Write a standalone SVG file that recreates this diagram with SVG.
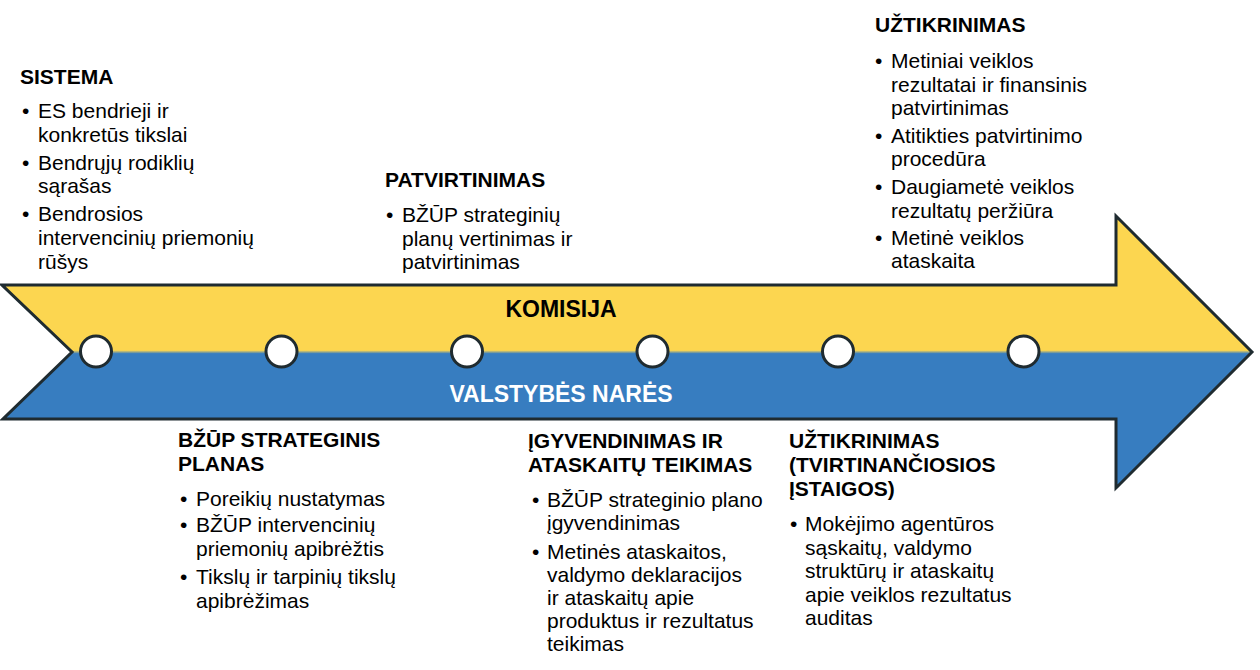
<svg xmlns="http://www.w3.org/2000/svg" width="1260" height="670" viewBox="0 0 1260 670">
<defs>
<linearGradient id="band" gradientUnits="userSpaceOnUse" x1="0" y1="216" x2="0" y2="488">
<stop offset="0" stop-color="#FCD650"/>
<stop offset="0.494" stop-color="#FCD650"/>
<stop offset="0.506" stop-color="#377DC0"/>
<stop offset="1" stop-color="#377DC0"/>
</linearGradient>
<style>
text{font-family:"Liberation Sans",Arial,sans-serif;fill:#000}
.h{font-size:21px;font-weight:bold}
.b{font-size:21px}
.band{font-size:23px;font-weight:bold;text-anchor:middle}
.dot{fill:#fff;stroke:#1F2B30;stroke-width:3}
</style>
</defs>
<rect width="1260" height="670" fill="#fff"/>
<g id="timeline-arrow">
<path d="M2,285 L1116,285 L1116,216 L1252,352 L1116,488 L1116,419 L3,419 L72,352 Z" fill="url(#band)" stroke="#1F2B30" stroke-width="3" stroke-linejoin="miter"/>
<text class="band" x="561" y="317">KOMISIJA</text>
<text class="band" x="561" y="402" style="fill:#fff">VALSTYBĖS NARĖS</text>
</g>
<g id="milestones">
<circle class="dot" cx="96" cy="351.5" r="15.5"/>
<circle class="dot" cx="281.5" cy="351.5" r="15.5"/>
<circle class="dot" cx="467" cy="351.5" r="15.5"/>
<circle class="dot" cx="652.5" cy="351.5" r="15.5"/>
<circle class="dot" cx="838" cy="351.5" r="15.5"/>
<circle class="dot" cx="1023.5" cy="351.5" r="15.5"/>
</g>
<g id="connectors"/>
<g id="sistema">
<text class="h" x="20" y="84">SISTEMA</text>
<text class="b" x="22" y="118">•</text>
<text class="b" x="38" y="118">ES bendrieji ir</text>
<text class="b" x="38" y="142">konkretūs tikslai</text>
<text class="b" x="22" y="170">•</text>
<text class="b" x="38" y="170">Bendrųjų rodiklių</text>
<text class="b" x="38" y="193">sąrašas</text>
<text class="b" x="22" y="221">•</text>
<text class="b" x="38" y="221">Bendrosios</text>
<text class="b" x="38" y="245">intervencinių priemonių</text>
<text class="b" x="38" y="269">rūšys</text>
</g>
<g id="patvirtinimas">
<text class="h" x="385" y="187">PATVIRTINIMAS</text>
<text class="b" x="386" y="222">•</text>
<text class="b" x="402" y="222">BŽŪP strateginių</text>
<text class="b" x="402" y="246">planų vertinimas ir</text>
<text class="b" x="402" y="269">patvirtinimas</text>
</g>
<g id="uztikrinimas-komisija">
<text class="h" x="875" y="32">UŽTIKRINIMAS</text>
<text class="b" x="875" y="68">•</text>
<text class="b" x="891" y="68">Metiniai veiklos</text>
<text class="b" x="891" y="92">rezultatai ir finansinis</text>
<text class="b" x="891" y="115">patvirtinimas</text>
<text class="b" x="875" y="143">•</text>
<text class="b" x="891" y="143">Atitikties patvirtinimo</text>
<text class="b" x="891" y="166">procedūra</text>
<text class="b" x="875" y="194">•</text>
<text class="b" x="891" y="194">Daugiametė veiklos</text>
<text class="b" x="891" y="218">rezultatų peržiūra</text>
<text class="b" x="875" y="245">•</text>
<text class="b" x="891" y="245">Metinė veiklos</text>
<text class="b" x="891" y="268">ataskaita</text>
</g>
<g id="strateginis-planas">
<text class="h" x="178" y="447">BŽŪP STRATEGINIS</text>
<text class="h" x="178" y="471">PLANAS</text>
<text class="b" x="180" y="506">•</text>
<text class="b" x="196" y="506">Poreikių nustatymas</text>
<text class="b" x="180" y="532">•</text>
<text class="b" x="196" y="532">BŽŪP intervencinių</text>
<text class="b" x="196" y="556">priemonių apibrėžtis</text>
<text class="b" x="180" y="584">•</text>
<text class="b" x="196" y="584">Tikslų ir tarpinių tikslų</text>
<text class="b" x="196" y="608">apibrėžimas</text>
</g>
<g id="igyvendinimas">
<text class="h" x="528" y="448">ĮGYVENDINIMAS IR</text>
<text class="h" x="528" y="472">ATASKAITŲ TEIKIMAS</text>
<text class="b" x="532" y="507">•</text>
<text class="b" x="547" y="507">BŽŪP strateginio plano</text>
<text class="b" x="547" y="530">įgyvendinimas</text>
<text class="b" x="532" y="559">•</text>
<text class="b" x="547" y="559">Metinės ataskaitos,</text>
<text class="b" x="547" y="582">valdymo deklaracijos</text>
<text class="b" x="547" y="605">ir ataskaitų apie</text>
<text class="b" x="547" y="628">produktus ir rezultatus</text>
<text class="b" x="547" y="651">teikimas</text>
</g>
<g id="uztikrinimas-istaigos">
<text class="h" x="789" y="448">UŽTIKRINIMAS</text>
<text class="h" x="789" y="472">(TVIRTINANČIOSIOS</text>
<text class="h" x="789" y="496">ĮSTAIGOS)</text>
<text class="b" x="790" y="531">•</text>
<text class="b" x="805" y="531">Mokėjimo agentūros</text>
<text class="b" x="805" y="555">sąskaitų, valdymo</text>
<text class="b" x="805" y="578">struktūrų ir ataskaitų</text>
<text class="b" x="805" y="602">apie veiklos rezultatus</text>
<text class="b" x="805" y="625">auditas</text>
</g>
</svg>
